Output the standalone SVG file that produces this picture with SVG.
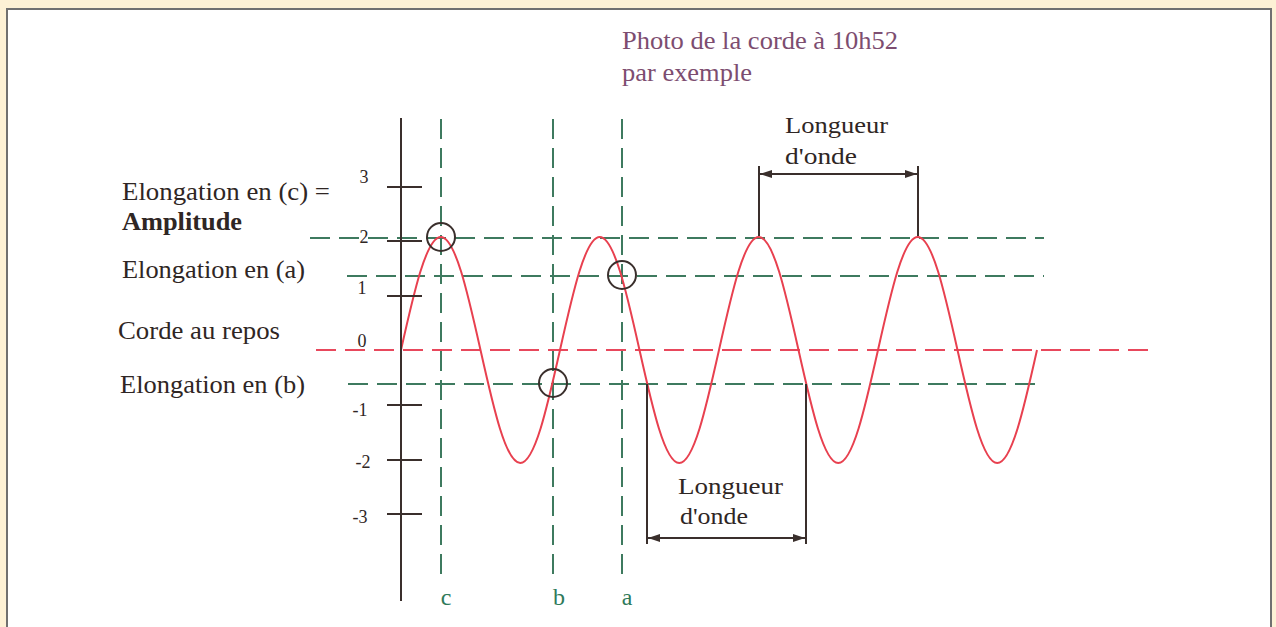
<svg xmlns="http://www.w3.org/2000/svg" width="1276" height="627" viewBox="0 0 1276 627">
<defs>
<style>
.t{font-family:"Liberation Serif","Times New Roman",serif;fill:#2f2624}
.num{font-family:"Liberation Serif","Times New Roman",serif;fill:#2f2624;font-size:18px;text-anchor:middle}
.lab{font-family:"Liberation Serif","Times New Roman",serif;fill:#2f7a5a;font-size:24px;text-anchor:middle}
.ttl{font-family:"Liberation Serif","Times New Roman",serif;fill:#7d4d70;font-size:26px}
.gd{stroke:#3e7a5f;stroke-width:2;stroke-dasharray:20 9;fill:none}
.rd{stroke:#e8485c;stroke-width:2;stroke-dasharray:20 9;fill:none}
.blk{stroke:#3a2f2c;stroke-width:2;fill:none}
.circ{stroke:#3a2f2c;stroke-width:2;fill:none}
</style>
<marker id="ah" viewBox="0 0 12 8" refX="12" refY="4" markerWidth="12" markerHeight="8" markerUnits="userSpaceOnUse" orient="auto-start-reverse">
<path d="M0,0 L12,4 L0,8 Z" fill="#3a2f2c"/>
</marker>
</defs>
<rect x="0" y="0" width="1276" height="627" fill="#fdf1d5"/>
<rect x="7" y="9" width="1264" height="640" fill="#ffffff" stroke="#707070" stroke-width="2"/>

<g id="connectors">
<line class="gd" x1="441" y1="119" x2="441" y2="576"/>
<line class="gd" x1="553" y1="119" x2="553" y2="576"/>
<line class="gd" x1="622" y1="119" x2="622" y2="576"/>
<line class="gd" x1="310" y1="238" x2="1044" y2="238"/>
<line class="gd" x1="347" y1="276" x2="1044" y2="276"/>
<line class="gd" x1="348" y1="384" x2="1044" y2="384"/>
<line class="rd" x1="316" y1="350" x2="1149" y2="350"/>
<path d="M401,350 C413.96,292.11 426.36,237 440.75,237 S467.54,292.11 480.5,350 S505.86,463 520.25,463 S547.04,407.89 560,350 S585.36,237 599.75,237 S626.54,292.11 639.5,350 S664.86,463 679.25,463 S706.04,407.89 719,350 S744.36,237 758.75,237 S785.54,292.11 798.5,350 S823.86,463 838.25,463 S865.04,407.89 878,350 S903.36,237 917.75,237 S944.54,292.11 957.5,350 S982.86,463 997.25,463 S1024.04,407.89 1037,350" fill="none" stroke="#e8404f" stroke-width="2"/>
<line class="blk" x1="759" y1="166" x2="759" y2="236"/>
<line class="blk" x1="918" y1="166" x2="918" y2="236"/>
<line class="blk" x1="760" y1="174" x2="917" y2="174" marker-start="url(#ah)" marker-end="url(#ah)"/>
<line class="blk" x1="647" y1="384" x2="647" y2="544"/>
<line class="blk" x1="806" y1="384" x2="806" y2="544"/>
<line class="blk" x1="648" y1="538" x2="805" y2="538" marker-start="url(#ah)" marker-end="url(#ah)"/>
</g>

<g id="axis">
<line class="blk" x1="401" y1="118" x2="401" y2="601"/>
<line class="blk" x1="387" y1="187" x2="422" y2="187"/>
<line class="blk" x1="387" y1="241" x2="422" y2="241"/>
<line class="blk" x1="387" y1="296" x2="422" y2="296"/>
<line class="blk" x1="387" y1="405" x2="422" y2="405"/>
<line class="blk" x1="387" y1="460" x2="422" y2="460"/>
<line class="blk" x1="387" y1="514" x2="422" y2="514"/>
<text class="num" x="364" y="183">3</text>
<text class="num" x="364" y="243">2</text>
<text class="num" x="362" y="294">1</text>
<text class="num" x="362" y="347">0</text>
<text class="num" x="360" y="416">-1</text>
<text class="num" x="363" y="468">-2</text>
<text class="num" x="360" y="523">-3</text>
</g>

<g id="circles">
<circle class="circ" cx="441" cy="237" r="14"/>
<circle class="circ" cx="622" cy="275" r="14"/>
<circle class="circ" cx="553" cy="383" r="14"/>
</g>

<g id="labels-left">
<text class="t" x="122" y="200" font-size="25" textLength="208" lengthAdjust="spacingAndGlyphs">Elongation en (c) =</text>
<text class="t" x="122" y="230" font-size="25" font-weight="bold" textLength="120" lengthAdjust="spacingAndGlyphs">Amplitude</text>
<text class="t" x="122" y="278" font-size="25" textLength="183" lengthAdjust="spacingAndGlyphs">Elongation en (a)</text>
<text class="t" x="118" y="339" font-size="25" textLength="162" lengthAdjust="spacingAndGlyphs">Corde au repos</text>
<text class="t" x="120" y="393" font-size="25" textLength="185" lengthAdjust="spacingAndGlyphs">Elongation en (b)</text>
</g>

<g id="labels-abc">
<text class="lab" x="446" y="605">c</text>
<text class="lab" x="559" y="605">b</text>
<text class="lab" x="627" y="605">a</text>
</g>

<g id="title">
<text class="ttl" x="622" y="49" textLength="276" lengthAdjust="spacingAndGlyphs">Photo de la corde à 10h52</text>
<text class="ttl" x="622" y="81" textLength="130" lengthAdjust="spacingAndGlyphs">par exemple</text>
</g>

<g id="wavelength-top">
<text class="t" x="785" y="133" font-size="24" textLength="103" lengthAdjust="spacingAndGlyphs">Longueur</text>
<text class="t" x="785" y="164" font-size="24" textLength="72" lengthAdjust="spacingAndGlyphs">d'onde</text>
</g>

<g id="wavelength-bottom">
<text class="t" x="678" y="494" font-size="24" textLength="105" lengthAdjust="spacingAndGlyphs">Longueur</text>
<text class="t" x="680" y="524" font-size="24" textLength="68" lengthAdjust="spacingAndGlyphs">d'onde</text>
</g>
</svg>
